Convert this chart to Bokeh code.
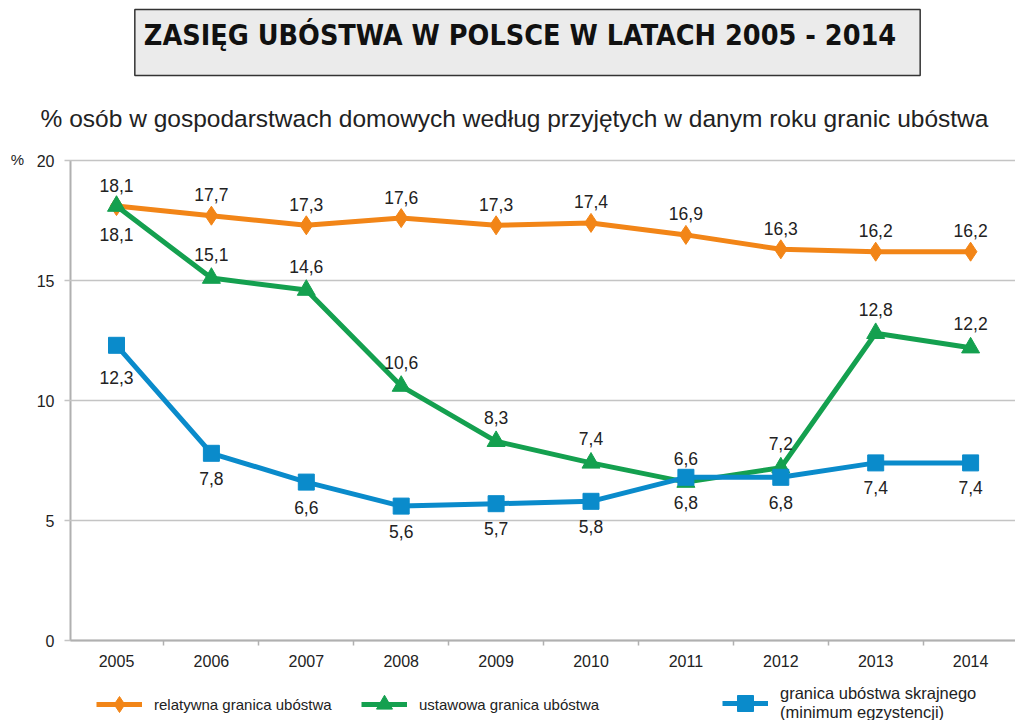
from bokeh.plotting import figure
from bokeh.models import (Label, LabelSet, ColumnDataSource, FixedTicker, Legend,
                          LegendItem, Range1d)
from bokeh.embed import file_html
from bokeh.resources import INLINE
from bokeh.core.properties import value

# ---------------- data ----------------
years = [2005, 2006, 2007, 2008, 2009, 2010, 2011, 2012, 2013, 2014]
relatywna = [18.1, 17.7, 17.3, 17.6, 17.3, 17.4, 16.9, 16.3, 16.2, 16.2]
ustawowa = [18.1, 15.1, 14.6, 10.6, 8.3, 7.4, 6.6, 7.2, 12.8, 12.2]
skrajna = [12.3, 7.8, 6.6, 5.6, 5.7, 5.8, 6.8, 6.8, 7.4, 7.4]
y_ticks = [0, 5, 10, 15, 20]
title_text = "ZASIĘG UBÓSTWA W POLSCE W LATACH 2005 - 2014"
subtitle_text = "% osób w gospodarstwach domowych według przyjętych w danym roku granic ubóstwa"
unit_text = "%"
legend_labels = ["relatywna granica ubóstwa",
                 "ustawowa granica ubóstwa",
                 "granica ubóstwa skrajnego\n(minimum egzystencji)"]

# ---------------- layout / styles ----------------
W, H = 1015, 720
PX_PER_YEAR = 94.9          # horizontal scale (px per year)
X0_PX = 116                 # pixel position of first year
PX_PER_UNIT = 24.0          # vertical scale (px per %)
Y0_PX = 640                 # pixel position of 0 %
AXIS_LEFT_PX = 70

FONT = "'Liberation Sans', Arial, sans-serif"
NARROW = "'Liberation Sans Narrow', 'DejaVu Sans Condensed', sans-serif"
ORANGE = "#F28517"
GREEN = "#14A04F"
BLUE = "#0A8BCB"
TXT = "#222222"
GRID = "#c4c4c4"

x_start = years[0] - X0_PX / PX_PER_YEAR
x_end = years[0] + (W - X0_PX) / PX_PER_YEAR
y_end = Y0_PX / PX_PER_UNIT
y_start = (Y0_PX - H) / PX_PER_UNIT
x_axis_left = years[0] - (X0_PX - AXIS_LEFT_PX) / PX_PER_YEAR

p = figure(width=W, height=H, output_backend="svg", toolbar_location=None,
           x_range=Range1d(x_start, x_end), y_range=Range1d(y_start, y_end),
           min_border=0)
p.outline_line_color = None
p.background_fill_color = "white"
p.border_fill_color = "white"
p.xgrid.visible = False
p.ygrid.visible = False

# x axis
xa = p.xaxis[0]
xa.fixed_location = 0
xa.bounds = (x_axis_left, x_end)
xa.ticker = FixedTicker(ticks=years, minor_ticks=[y + 0.5 for y in years[:-1]])
xa.major_tick_out = 0
xa.major_tick_in = 0
xa.minor_tick_out = 5
xa.minor_tick_in = 0
xa.minor_tick_line_color = "#b0b0b0"
xa.minor_tick_line_width = 1.5
xa.axis_line_color = "#b0b0b0"
xa.axis_line_width = 2
xa.major_label_text_font = FONT
xa.major_label_text_font_size = "16px"
xa.major_label_text_color = TXT
xa.major_label_standoff = 9

# y axis (its inward ticks act as the horizontal grid lines)
ya = p.yaxis[0]
ya.fixed_location = x_axis_left
ya.bounds = (0, 20)
ya.level = "underlay"
ya.ticker = FixedTicker(ticks=y_ticks)
ya.minor_tick_line_color = None
ya.major_tick_out = 6
ya.major_tick_in = W - AXIS_LEFT_PX
ya.major_tick_line_color = GRID
ya.major_tick_line_width = 1.5
ya.axis_line_color = "#b0b0b0"
ya.axis_line_width = 2
ya.major_label_text_font = FONT
ya.major_label_text_font_size = "16px"
ya.major_label_text_color = TXT
ya.major_label_standoff = 10

# series
series = [
    (relatywna, ORANGE, "diamond", 19),
    (ustawowa, GREEN, "triangle", 18),
    (skrajna, BLUE, "square", 16),
]
legend_renderers = []
for vals, col, marker, size in series:
    src = ColumnDataSource(dict(x=years, y=vals))
    lr = p.line("x", "y", source=src, line_color=col, line_width=5)
    sr = p.scatter("x", "y", source=src, marker=marker, size=size,
                   fill_color=col, line_color=col)
    legend_renderers.append([lr, sr])

# data labels
def fmt(v):
    return f"{v:.1f}".replace(".", ",")

label_specs = [
    (relatywna, [21] * len(years)),
    (ustawowa, [-28] + [24] * (len(years) - 1)),
    (skrajna, [-32] + [-25] * (len(years) - 1)),
]
for vals, offs in label_specs:
    src = ColumnDataSource(dict(x=years, y=vals, t=[fmt(v) for v in vals], off=offs))
    ls = LabelSet(x="x", y="y", text="t", y_offset="off", source=src,
                  text_align="center", text_baseline="middle",
                  text_font=value(FONT), text_font_size="17.5px", text_color=TXT)
    p.add_layout(ls)

# title box (shadow + box); screen units measured from the frame's bottom-left
pad = (9, 24, 9, 24)
tx, ty = 527, H - 42
shadow = Label(x=tx + 3, y=ty - 3, x_units="screen", y_units="screen", text=title_text,
               text_align="center", text_baseline="middle",
               text_font=NARROW, text_font_style="bold", text_font_size="28.5px",
               text_alpha=0, background_fill_color="#7a7a7a", padding=pad)
p.add_layout(shadow)
title = Label(x=tx, y=ty, x_units="screen", y_units="screen", text=title_text,
              text_align="center", text_baseline="middle",
              text_font=NARROW, text_font_style="bold", text_font_size="28.5px",
              text_color="#111111", background_fill_color="#ebebeb",
              border_line_color="#333333", border_line_width=1.5, padding=pad)
p.add_layout(title)

sub = Label(x=514, y=H - 118, x_units="screen", y_units="screen", text=subtitle_text,
            text_align="center", text_baseline="middle",
            text_font=FONT, text_font_size="24.5px", text_color=TXT)
p.add_layout(sub)

unit = Label(x=17, y=H - 159, x_units="screen", y_units="screen", text=unit_text,
             text_align="center", text_baseline="middle",
             text_font=FONT, text_font_size="15px", text_color=TXT)
p.add_layout(unit)

# legend (three separate pieces placed along the bottom)
legend_x = [96, 361, 722]
legend_y = [H - 724, H - 724, H - 723]
legend_fs = ["15px", "15px", "16.5px"]
for i in range(3):
    leg = Legend(items=[LegendItem(label=legend_labels[i], renderers=legend_renderers[i])],
                 location=(legend_x[i], legend_y[i]), orientation="horizontal",
                 padding=0, margin=0, border_line_color=None,
                 background_fill_alpha=0, glyph_width=46, glyph_height=40,
                 label_standoff=12, label_text_font=FONT,
                 label_text_font_size=legend_fs[i], label_text_color=TXT,
                 label_text_line_height=1.0)
    p.add_layout(leg)

open("out.html", "w").write(file_html(p, INLINE))
